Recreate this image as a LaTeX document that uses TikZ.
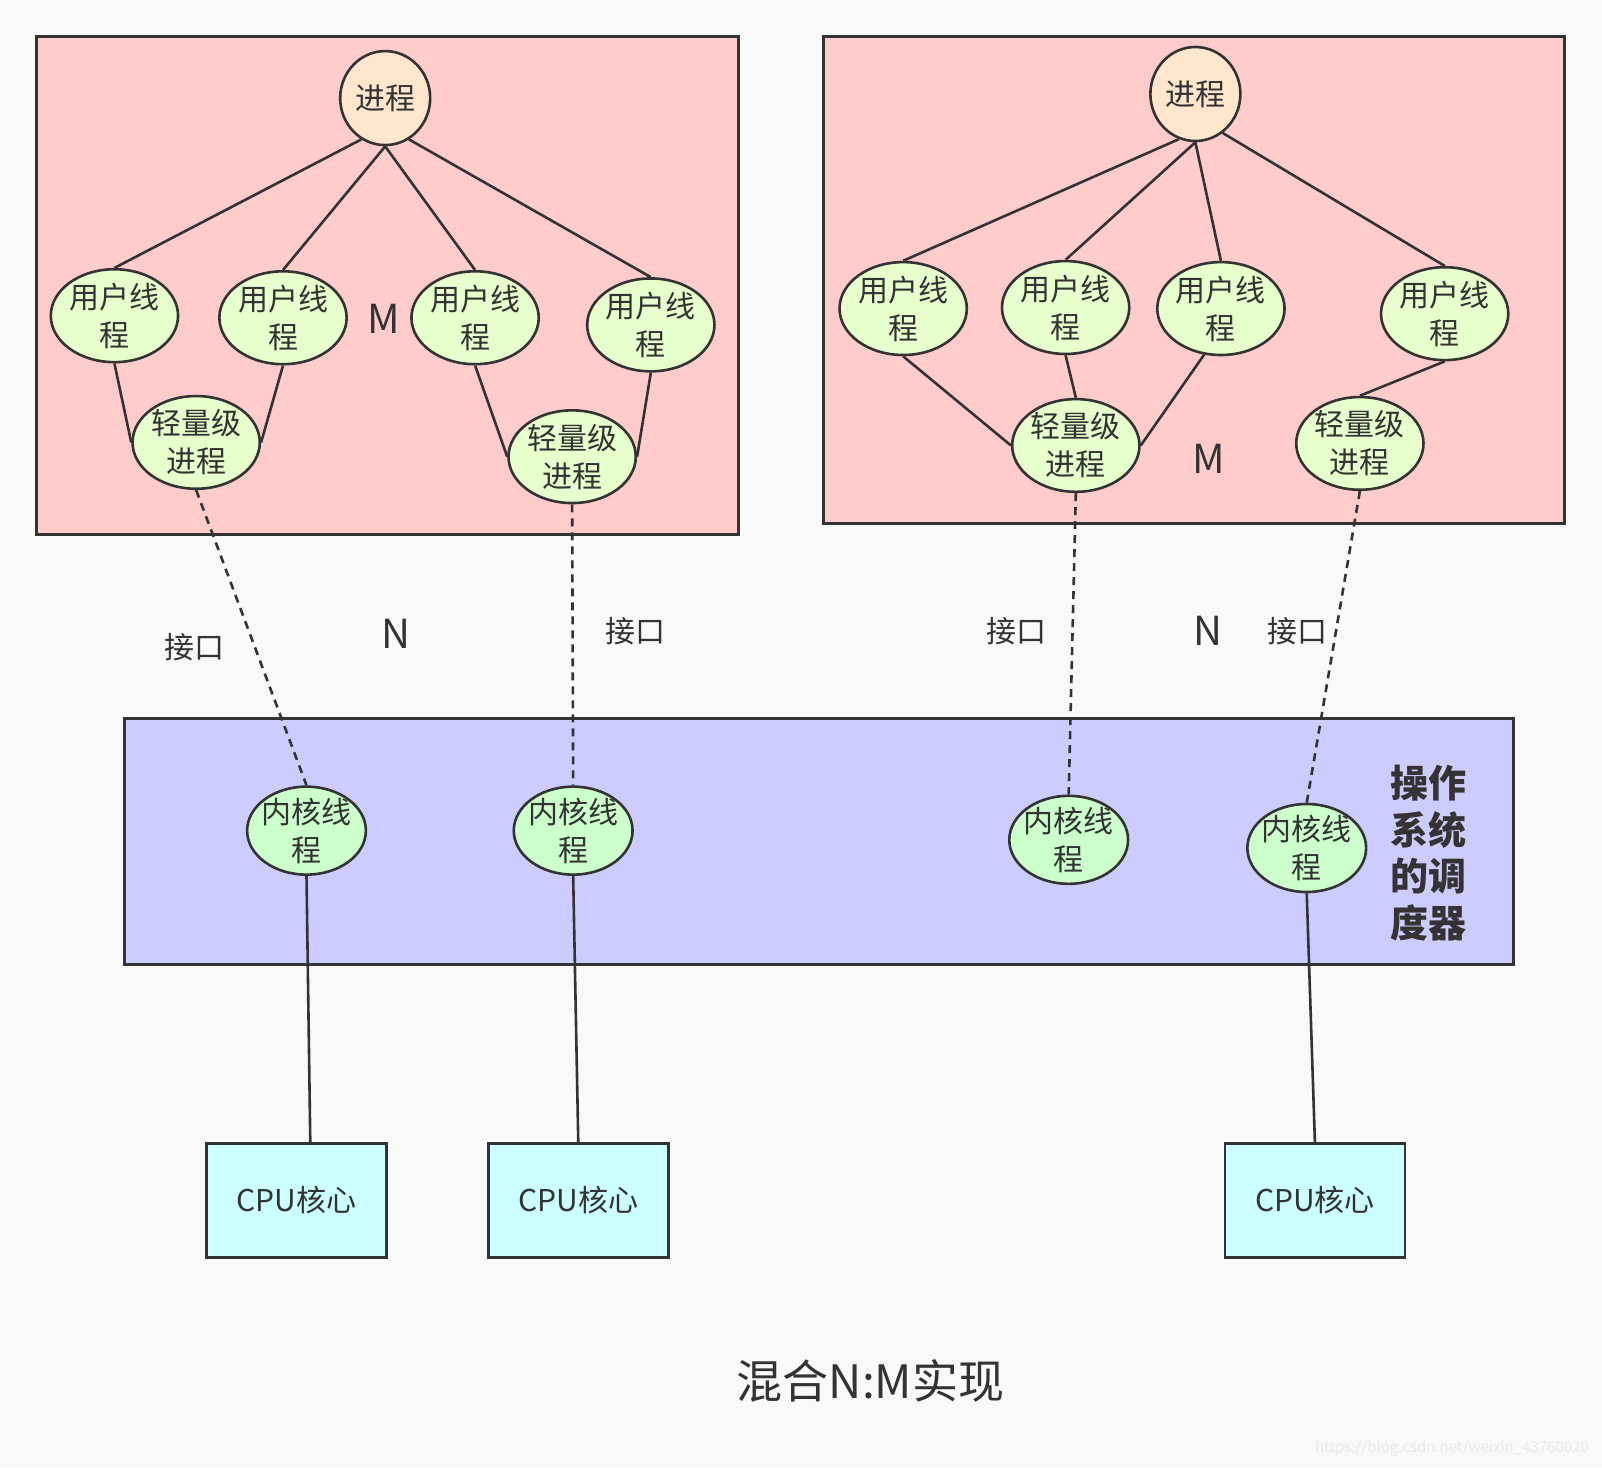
\documentclass[tikz,border=0pt]{standalone}
\usepackage{fontspec}
\setmainfont{Noto Sans CJK SC}
\usepackage{tikz}
\usetikzlibrary{shapes.geometric, positioning, calc}

\definecolor{bgcol}{HTML}{F9F9F9}
\definecolor{inkcol}{HTML}{333333}
\definecolor{pinkfill}{HTML}{FFCCCC}
\definecolor{bluefill}{HTML}{CCCCFF}
\definecolor{procfill}{HTML}{FFE6CC}
\definecolor{userfill}{HTML}{E6FFCC}
\definecolor{kernfill}{HTML}{CCFFCC}
\definecolor{cpufill}{HTML}{CCFFFF}

\begin{document}
\begin{tikzpicture}[
        x=0.51085pt, y=-0.51085pt,
        every node/.style={text=inkcol, font=\fontsize{15}{19}\selectfont},
        area/.style={draw=inkcol, line width=1.5pt},
        proc/.style={ellipse, draw=inkcol, line width=1.3pt, fill=procfill, inner sep=0pt, minimum width=45pt, minimum height=47pt},
        uthr/.style={ellipse, draw=inkcol, line width=1.3pt, fill=userfill, inner sep=0pt, minimum width=62pt, minimum height=46pt, align=center},
        kthr/.style={ellipse, draw=inkcol, line width=1.3pt, fill=kernfill, inner xsep=-1.5pt, inner ysep=-1.5pt, minimum width=59pt, minimum height=44pt, align=center},
        cpu/.style={rectangle, draw=inkcol, line width=1.3pt, fill=cpufill, minimum width=90pt, minimum height=57pt},
        link/.style={draw=inkcol, line width=1.3pt},
        iface/.style={link, dash pattern=on 4pt off 3pt},
        bigtxt/.style={font=\fontsize{20}{24}\selectfont},
    ]

    % ── Canvas ──
    \fill[bgcol] (0,0) rectangle (1568,1436);

    % ── Areas ──
    \draw[area, fill=pinkfill] (36,36) rectangle (723,523);
    \draw[area, fill=pinkfill] (806,36) rectangle (1531,512);
    \draw[area, fill=bluefill] (122,703) rectangle (1481,944);

    % ── Left process ──
    \node[proc] (p1) at (377,96) {进程};
    \node[uthr] (u1) at (112,309) {用户线\\程};
    \node[uthr] (u2) at (277,311) {用户线\\程};
    \node[uthr] (u3) at (465,311) {用户线\\程};
    \node[uthr] (u4) at (637,318) {用户线\\程};
    \node[uthr] (l1) at (192,433) {轻量级\\进程};
    \node[uthr] (l2) at (560,447) {轻量级\\进程};
    \node[bigtxt] (m1) at (376,312) {M};

    % ── Right process ──
    \node[proc] (p2) at (1170,92) {进程};
    \node[uthr] (u5) at (884,302) {用户线\\程};
    \node[uthr] (u6) at (1043,301) {用户线\\程};
    \node[uthr] (u7) at (1195,302) {用户线\\程};
    \node[uthr] (u8) at (1414,307) {用户线\\程};
    \node[uthr] (l3) at (1053,436) {轻量级\\进程};
    \node[uthr] (l4) at (1331,434) {轻量级\\进程};
    \node[bigtxt] (m2) at (1183,449) {M};

    % ── Scheduler ──
    \node[kthr] (k1) at (300,813) {内核线\\程};
    \node[kthr] (k2) at (561,813) {内核线\\程};
    \node[kthr] (k3) at (1046,822) {内核线\\程};
    \node[kthr] (k4) at (1279,830) {内核线\\程};
    \node[align=center, font=\fontsize{19}{23.3}\selectfont\bfseries] (sched) at (1398,835) {操作\\系统\\的调\\度器};

    % ── CPU cores ──
    \node[cpu] (c1) at (290,1175) {CPU核心};
    \node[cpu] (c2) at (566,1175) {CPU核心};
    \node[cpu] (c3) at (1287,1175) {CPU核心};

    % ── Labels ──
    \node (if1) at (190,633) {接口};
    \node (if2) at (622,618) {接口};
    \node (if3) at (995,618) {接口};
    \node (if4) at (1270,618) {接口};
    \node[bigtxt] (n1) at (388,620) {N};
    \node[bigtxt] (n2) at (1182,617) {N};
    \node[font=\fontsize{23}{27}\selectfont] (title) at (852,1352) {混合N:M实现};
    \node[font=\fontsize{7.5}{9}\selectfont, text=black!8, anchor=east] (wm) at (1562,1418) {https://blog.csdn.net/weixin\_43760020};

    % ── Links: process → user threads ──
    \draw[link] (p1.240) -- (u1.north);
    \draw[link] (p1.south) -- (u2.north);
    \draw[link] (p1.south) -- (u3.north);
    \draw[link] (p1.300) -- (u4.north);
    \draw[link] (p2.250) -- (u5.north);
    \draw[link] (p2.south) -- (u6.north);
    \draw[link] (p2.south) -- (u7.north);
    \draw[link] (p2.305) -- (u8.north);

    % ── Links: user threads → LWP ──
    \draw[link] (u1.south) -- (l1.west);
    \draw[link] (u2.south) -- (l1.east);
    \draw[link] (u3.south) -- (l2.west);
    \draw[link] (u4.south) -- (l2.east);
    \draw[link] (u5.south) -- (l3.west);
    \draw[link] (u6.south) -- (l3.north);
    \draw[link] (u7.250) -- (l3.east);
    \draw[link] (u8.south) -- (l4.north);

    % ── Interfaces: LWP → kernel threads ──
    \draw[iface] (l1.south) -- (k1.north);
    \draw[iface] (l2.south) -- (k2.north);
    \draw[iface] (l3.south) -- (k3.north);
    \draw[iface] (l4.south) -- (k4.north);

    % ── Kernel threads → CPU ──
    \draw[link] (k1.south) -- ([xshift=7pt]c1.north);
    \draw[link] (k2.south) -- (c2.north);
    \draw[link] (k4.south) -- (c3.north);

\end{tikzpicture}
\end{document}
